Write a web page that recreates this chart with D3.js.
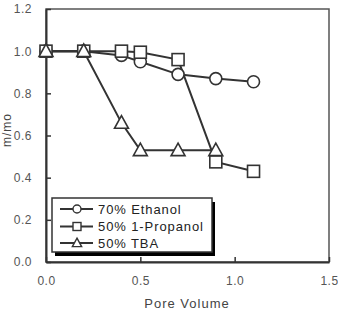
<!DOCTYPE html>
<html><head><meta charset="utf-8">
<script src="https://cdn.jsdelivr.net/npm/d3@7"></script>
<style>body{margin:0;background:#fff}svg{display:block}text{font-family:Arial,"Liberation Sans",sans-serif}</style>
</head><body><div id="chart"></div>
<script>
const xValues = [0, 0.2, 0.4, 0.5, 0.7, 0.9, 1.1];
const ethanol = [1.0, 1.0, 0.98, 0.95, 0.89, 0.87, 0.855];
const propanol = [1.0, 1.0, 1.0, 0.995, 0.96, 0.475, 0.43];
const tba = [1.0, 1.0, 0.66, 0.53, 0.53, 0.53];
const seriesNames = ["70% Ethanol", "50% 1-Propanol", "50% TBA"];
const seriesShapes = ["circle", "square", "triangle"];
const xTicks = [0, 0.5, 1.0, 1.5];
const yTicks = [0, 0.2, 0.4, 0.6, 0.8, 1.0, 1.2];
const xLabel = "Pore Volume";
const yLabel = "m/mo";

const W = 338, H = 310;
const m = {left: 46, right: 9, top: 9, bottom: 48};
const svg = d3.select("#chart").append("svg").attr("width", W).attr("height", H);
const x = d3.scaleLinear().domain([0, 1.5]).range([m.left, W - m.right]);
const y = d3.scaleLinear().domain([0, 1.2]).range([H - m.bottom, m.top]);
const ink = "#333";

// frame
svg.append("rect").attr("x", x(0)).attr("y", y(1.2)).attr("width", x(1.5) - x(0)).attr("height", y(0) - y(1.2))
  .attr("fill", "none").attr("stroke", "#555").attr("stroke-width", 1.5);

const xAxis = svg.append("g").attr("transform", `translate(0,${y(0)})`)
  .call(d3.axisBottom(x).tickValues(xTicks).tickFormat(d3.format(".1f")).tickSizeInner(-5).tickSizeOuter(0).tickPadding(14));
const yAxis = svg.append("g").attr("transform", `translate(${x(0)},0)`)
  .call(d3.axisLeft(y).tickValues(yTicks).tickFormat(d3.format(".1f")).tickSizeInner(-5).tickSizeOuter(0).tickPadding(14));
[xAxis, yAxis].forEach(a => {
  a.select(".domain").attr("stroke", ink).attr("stroke-width", 2);
  a.selectAll(".tick line").attr("stroke", ink).attr("stroke-width", 1.5);
  a.selectAll("text").attr("font-size", 12).attr("fill", "#555").attr("letter-spacing", 0.5);
});

svg.append("text").attr("x", 187).attr("y", 308).attr("text-anchor", "middle").attr("font-size", 13)
  .attr("fill", "#444").attr("letter-spacing", 1).text(xLabel);
svg.append("text").attr("transform", `translate(11,130) rotate(-90)`).attr("text-anchor", "middle")
  .attr("font-size", 12).attr("fill", "#444").attr("letter-spacing", 1).text(yLabel);

function marker(g, shape, cx, cy, s) {
  if (shape === "circle") g.append("circle").attr("cx", cx).attr("cy", cy).attr("r", s / 2);
  else if (shape === "square") g.append("rect").attr("x", cx - s / 2).attr("y", cy - s / 2).attr("width", s).attr("height", s);
  else g.append("path").attr("d", `M${cx},${cy - s * 0.6}L${cx + s * 0.58},${cy + s * 0.45}L${cx - s * 0.58},${cy + s * 0.45}Z`);
}

const data = [ethanol, propanol, tba];
const line = d3.line().x(d => x(d[0])).y(d => y(d[1]));
const drawOrder = [0, 1, 2];
drawOrder.forEach(i => {
  const pts = data[i].map((v, j) => [xValues[j], v]);
  svg.append("path").attr("d", line(pts)).attr("fill", "none").attr("stroke", ink).attr("stroke-width", 2);
});
drawOrder.forEach(i => {
  const pts = data[i].map((v, j) => [xValues[j], v]);
  const g = svg.append("g").attr("fill", "#fff").attr("stroke", ink).attr("stroke-width", 1.6);
  pts.forEach(p => marker(g, seriesShapes[i], x(p[0]), y(p[1]), 12));
});

// legend
const lg = svg.append("g");
lg.append("rect").attr("x", 55).attr("y", 202).attr("width", 160).attr("height", 54).attr("fill", "#000");
lg.append("rect").attr("x", 52).attr("y", 198).attr("width", 160).attr("height", 54).attr("fill", "#fff")
  .attr("stroke", ink).attr("stroke-width", 1.5);
const rows = [209, 226.5, 243];
seriesNames.forEach((name, i) => {
  lg.append("line").attr("x1", 60).attr("x2", 93).attr("y1", rows[i]).attr("y2", rows[i]).attr("stroke", ink).attr("stroke-width", 2);
  const g = lg.append("g").attr("fill", "#fff").attr("stroke", ink).attr("stroke-width", 1.4);
  marker(g, seriesShapes[i], 77, rows[i], 8);
  lg.append("text").attr("x", 98).attr("y", rows[i]).attr("dy", "0.36em").attr("font-size", 13)
    .attr("letter-spacing", 0.9).attr("fill", "#222").text(name);
});
</script></body></html>
